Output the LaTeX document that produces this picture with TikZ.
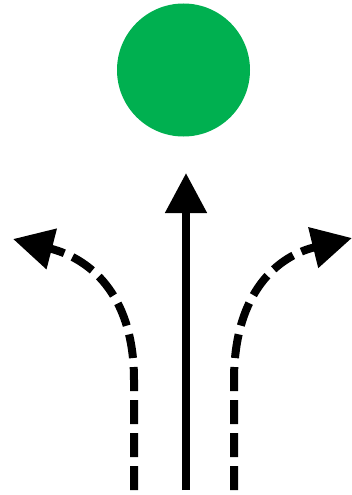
\documentclass[tikz,border=0pt]{standalone}
\usetikzlibrary{arrows.meta}
\definecolor{dotgreen}{HTML}{00B050}
\begin{document}
\begin{tikzpicture}[x=1pt,y=-1pt,
  bigtip/.style={-{Triangle[length=40pt,width=40pt]}},
  dashline/.style={bigtip,line width=8pt,dash pattern=on 24pt off 9pt}]
\useasboundingbox (0,0) rectangle (351,495);
\fill[dotgreen] (183.5,70) circle (66.5);
\coordinate (cb) at (186,490);
\coordinate (ct) at (186,173);
\draw[bigtip,line width=8pt] (cb) -- (ct);
\coordinate (lb) at (134,490);
\coordinate (lm) at (134,380);
\coordinate (lt) at (13,239);
\draw[dashline] (lb) -- (lm) .. controls (134,300) and (95,260) .. (lt);
\coordinate (rb) at (234,490);
\coordinate (rm) at (234,380);
\coordinate (rt) at (352,238);
\draw[dashline] (rb) -- (rm) .. controls (234,300) and (271,258) .. (rt);
\end{tikzpicture}
\end{document}
